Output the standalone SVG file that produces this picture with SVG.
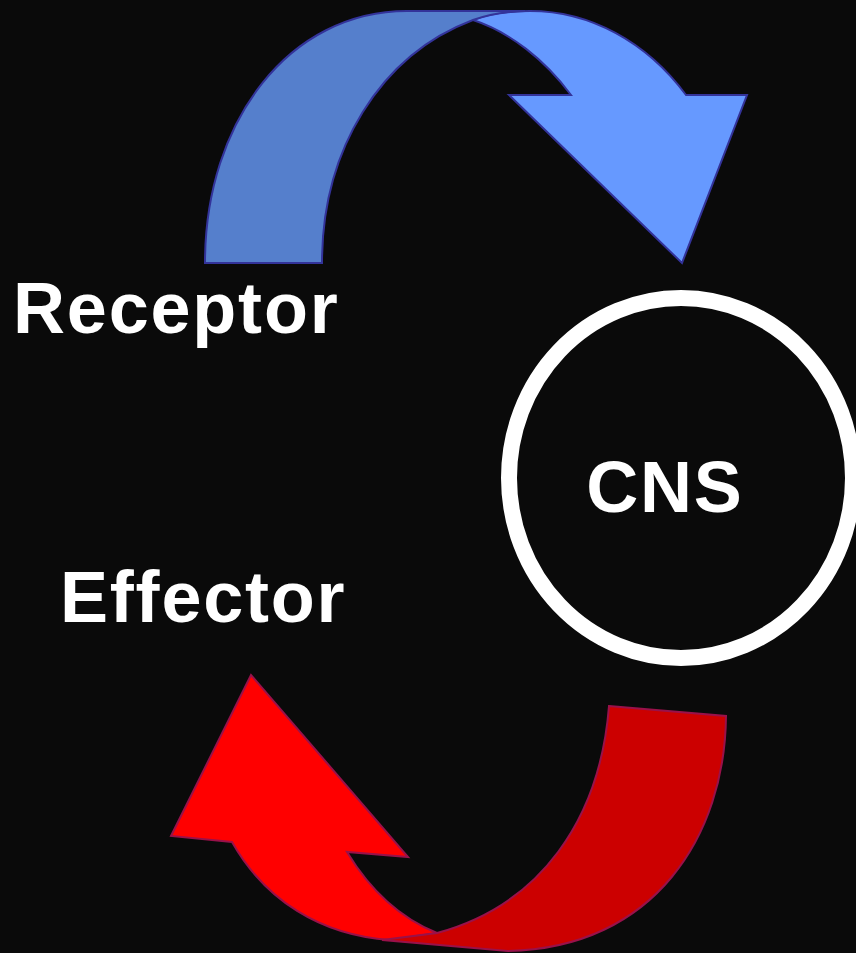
<svg xmlns="http://www.w3.org/2000/svg" width="856" height="953" viewBox="0 0 856 953">
<style>
.lbl{font-family:"Liberation Sans",Arial,sans-serif;font-weight:bold;font-size:72px;fill:#ffffff;letter-spacing:1.8px}
.blue{stroke:#33339a;stroke-width:2;stroke-linejoin:miter}
.red{stroke:#99114a;stroke-width:2;stroke-linejoin:miter}
</style>
<rect x="0" y="0" width="856" height="953" fill="#0a0a0a"/>
<g id="connectors">
<g id="arrow-receptor-cns">
<path class="blue" fill="#6699ff" d="M473,20 Q495,11 530,11 A209 252 0 0 1 686,95 L747,95 L682,263 L509,95 L571,95 C545,60 510,32 473,20 Z"/>
<path class="blue" fill="#557fcc" d="M205,263 L322,263 C322,150 380,55 473,20 Q495,12 525,11 L407,11 C290,11 205,120 205,263 Z"/>
</g>
<g id="arrow-cns-effector">
<path class="red" fill="#ff0000" d="M232,842 C265,900 320,935 390,940 L437,933 C400,918 370,890 347,852 L408,857 L251,675 L171,836 Z"/>
<path class="red" fill="#cc0000" d="M609,706 L726,716 C725,835 655,948 508,951 L382,940 L437,933 C540,905 600,820 609,706 Z"/>
</g>
</g>
<g id="receptor"><text class="lbl" x="13" y="333">Receptor</text></g>
<g id="effector"><text class="lbl" x="60" y="622">Effector</text></g>
<g id="cns">
<ellipse cx="681" cy="478" rx="172" ry="180" fill="none" stroke="#ffffff" stroke-width="16"/>
<text class="lbl" x="665" y="512" text-anchor="middle">CNS</text>
</g>
</svg>
